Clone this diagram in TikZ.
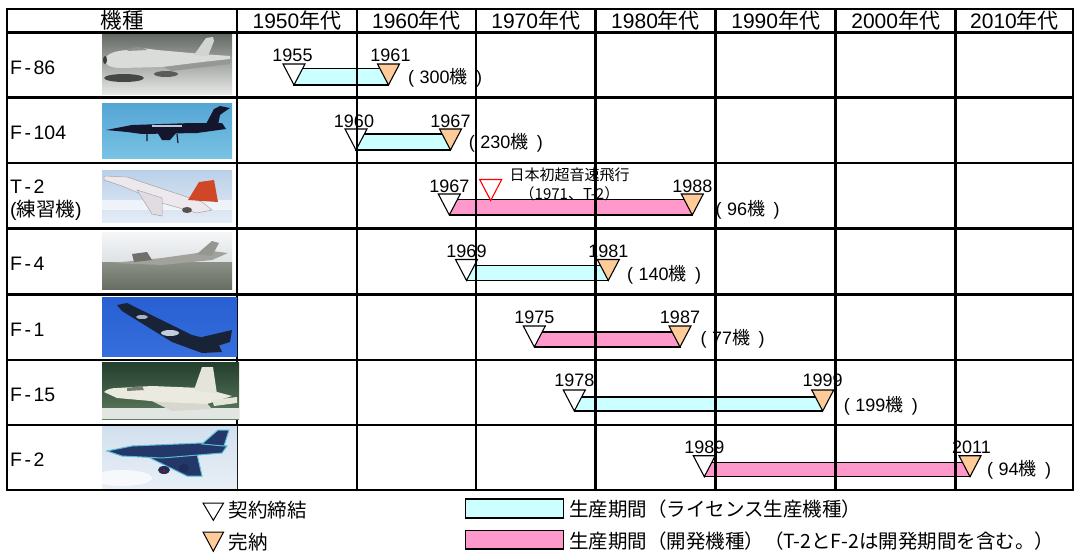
\documentclass[tikz,border=0pt]{standalone}
\usepackage{fontspec}
\setmainfont{Liberation Sans}
\newfontfamily\jp{Noto Sans CJK JP}
\definecolor{barcyan}{HTML}{CCFFFF}
\definecolor{barpink}{HTML}{FF99CC}
\definecolor{triorange}{HTML}{FFCC99}
\newcommand{\unitcnt}[1]{(\hspace{5.5pt}#1{\jp 機}\hspace{8.5pt})}
\begin{document}
\begin{tikzpicture}[x=1pt,y=-1pt,
  gridline/.style={line width=2.7pt, line cap=rect},
  barbox/.style={draw=black, line width=1.1pt},
  cbar/.style={barbox, fill=barcyan},
  pbar/.style={barbox, fill=barpink},
  tri/.style={draw=black, line width=1.1pt, line join=miter},
  wtri/.style={tri, fill=white},
  otri/.style={tri, fill=triorange},
  rtri/.style={draw=red, line width=1.1pt, line join=miter, fill=white},
  yr/.style={font=\fontsize{18}{18}\selectfont, inner sep=0pt, anchor=base},
  cnt/.style={font=\fontsize{18}{18}\selectfont, inner sep=0pt, anchor=west},
  hdr/.style={font=\fontsize{21}{21}\selectfont, inner sep=0pt},
  rowlab/.style={font=\fontsize{19.5}{19.5}\selectfont, inner sep=0pt, anchor=base west},
  leg/.style={font=\jp\fontsize{19.5}{19.5}\selectfont, inner sep=0pt, anchor=west},
  ann/.style={font=\jp\fontsize{15}{15}\selectfont, inner sep=0pt},
]
\useasboundingbox (0,0) rectangle (1077,554);
\fill[white] (0,0) rectangle (1077,554);

% ---------- apex coordinates ----------
\coordinate (s86) at (294,85);     \coordinate (e86) at (388.5,85);
\coordinate (s104) at (356,150);   \coordinate (e104) at (450.5,150);
\coordinate (st2) at (449.3,215);  \coordinate (et2) at (692.3,215);
\coordinate (sf4) at (466.5,280.5);\coordinate (ef4) at (608.3,280.5);
\coordinate (sf1) at (534.3,347);  \coordinate (ef1) at (680,347);
\coordinate (sf15) at (574.3,411); \coordinate (ef15) at (822.7,411);
\coordinate (sf2) at (704.3,476.7);\coordinate (ef2) at (970,476.7);
\coordinate (r71) at (490.7,200.5);

% ---------- bars ----------
\draw[cbar] ([yshift=16.5pt]s86) rectangle (e86);
\draw[cbar] ([yshift=16pt]s104) rectangle (e104);
\draw[pbar] ([yshift=15.5pt]st2) rectangle (et2);
\draw[cbar] ([yshift=15pt]sf4) rectangle (ef4);
\draw[pbar] ([yshift=15pt]sf1) rectangle (ef1);
\draw[cbar] ([yshift=14pt]sf15) rectangle (ef15);
\draw[pbar] ([yshift=14pt]sf2) rectangle (ef2);

% ---------- triangles ----------
\foreach \c in {s86,s104,st2,sf4,sf1,sf15,sf2}
  \draw[wtri] (\c) -- ++(-11,-21) -- ++(22,0) -- cycle;
\foreach \c in {e86,e104,et2,ef4,ef1,ef15,ef2}
  \draw[otri] (\c) -- ++(-11,-21) -- ++(22,0) -- cycle;
\draw[rtri] (r71) -- ++(-11,-21) -- ++(22,0) -- cycle;

% ---------- year labels ----------
\node[yr] (ys86) at ([yshift=24pt,xshift=-1.5pt]s86) {1955};
\node[yr] (ye86) at ([yshift=24pt,xshift=2pt]e86) {1961};
\node[yr] (ys104) at ([yshift=22.5pt,xshift=-2pt]s104) {1960};
\node[yr] (ye104) at ([yshift=22.5pt]e104) {1967};
\node[yr] (yst2) at ([yshift=23pt]st2) {1967};
\node[yr] (yet2) at ([yshift=23pt]et2) {1988};
\node[yr] (ysf4) at ([yshift=23.5pt]sf4) {1969};
\node[yr] (yef4) at ([yshift=23.5pt]ef4) {1981};
\node[yr] (ysf1) at ([yshift=23.5pt]sf1) {1975};
\node[yr] (yef1) at ([yshift=23.5pt]ef1) {1987};
\node[yr] (ysf15) at ([yshift=24.3pt]sf15) {1978};
\node[yr] (yef15) at ([yshift=24.3pt]ef15) {1999};
\node[yr] (ysf2) at ([yshift=23.4pt]sf2) {1989};
\node[yr] (yef2) at ([yshift=23.4pt,xshift=1.5pt]ef2) {2011};

% ---------- counts ----------
\node[cnt] (c86) at (408,77.7) {\unitcnt{300}};
\node[cnt] (c104) at (468.7,143.3) {\unitcnt{230}};
\node[cnt] (ct2) at (715.4,210) {\unitcnt{96}};
\node[cnt] (cf4) at (627,275) {\unitcnt{140}};
\node[cnt] (cf1) at (700.4,338.3) {\unitcnt{77}};
\node[cnt] (cf15) at (843.7,405.7) {\unitcnt{199}};
\node[cnt] (cf2) at (987,470) {\unitcnt{94}};

% ---------- annotation ----------
\node[ann] (ann1) at (569.5,175) {日本初超音速飛行};
\node[ann] (ann2) at (569.5,193.3) {（1971、T-2）};

% ---------- grid ----------
\draw[gridline] (7,9) rectangle (1073,490);
\foreach \yy in {32.5,97.5,163,228.5,294.5,360,425}
  \draw[gridline] (7,\yy) -- (1073,\yy);
\foreach \xx in {237,357,476,595.5,715.7,835.7,955.7}
  \draw[gridline] (\xx,9) -- (\xx,490);

% ---------- header ----------
\node[hdr,font=\jp\fontsize{21.5}{21.5}\selectfont] (h0) at (122,20.5) {機種};
\node[hdr] (h50) at (297,20.5) {1950{\jp 年代}};
\node[hdr] (h60) at (416.5,20.5) {1960{\jp 年代}};
\node[hdr] (h70) at (535.7,20.5) {1970{\jp 年代}};
\node[hdr] (h80) at (655.6,20.5) {1980{\jp 年代}};
\node[hdr] (h90) at (775.7,20.5) {1990{\jp 年代}};
\node[hdr] (h00) at (895.7,20.5) {2000{\jp 年代}};
\node[hdr] (h10) at (1014.5,20.5) {2010{\jp 年代}};

% ---------- row labels ----------
\node[rowlab] (l86) at (10,74) {F\kern2.5pt-\kern2.5pt86};
\node[rowlab] (l104) at (10,139) {F\kern2.5pt-\kern2.5pt104};
\node[rowlab] (lt2) at (10,193) {T\kern2.5pt-\kern2.5pt2};
\node[rowlab] (lt2b) at (10,216.5) {({\jp 練習機})};
\node[rowlab] (lf4) at (10,270.5) {F\kern2.5pt-\kern2.5pt4};
\node[rowlab] (lf1) at (10,336) {F\kern2.5pt-\kern2.5pt1};
\node[rowlab] (lf15) at (10,401.5) {F\kern2.5pt-\kern2.5pt15};
\node[rowlab] (lf2) at (10,466.7) {F\kern2.5pt-\kern2.5pt2};

% ---------- photos (approximated) ----------
% F-86
\begin{scope}[shift={(102,34)}]
  \clip (0,0) rectangle (130,60);
  \fill[top color={rgb,255:red,100;green,105;blue,100}, bottom color={rgb,255:red,230;green,232;blue,230}] (0,0) rectangle (130,60);
  \fill[fill={rgb,255:red,70;green,72;blue,70}] (22,44) ellipse [x radius=20, y radius=4];
  \fill[fill={rgb,255:red,90;green,92;blue,90}] (64,40) ellipse [x radius=12, y radius=3];
  \fill[fill={rgb,255:red,150;green,152;blue,150}] (55,30) -- (128,25) -- (128,30) -- (70,37) -- cycle;
  \fill[fill={rgb,255:red,218;green,220;blue,218}] (3,26) .. controls (4,20) and (12,17) .. (25,16) -- (40,14) -- (55,16) -- (100,20) -- (128,22) -- (128,25) -- (100,28) -- (60,33) -- (20,34) .. controls (8,34) and (3,31) .. (3,26) -- cycle;
  \fill[fill={rgb,255:red,210;green,212;blue,210}] (92,21) -- (104,4) -- (111,3) -- (112,7) -- (106,22) -- cycle;
  \fill[fill={rgb,255:red,140;green,145;blue,140}] (25,17) .. controls (30,12) and (40,12) .. (45,16) -- cycle;
  \fill[fill={rgb,255:red,60;green,60;blue,60}] (3,26) ellipse [x radius=2, y radius=4];
\end{scope}
% F-104
\begin{scope}[shift={(102,103)}]
  \clip (0,0) rectangle (130,55);
  \fill[top color={rgb,255:red,85;green,165;blue,212}, bottom color={rgb,255:red,120;green,195;blue,228}] (0,0) rectangle (130,55);
  \fill[fill={rgb,255:red,20;green,22;blue,45}] (4,27) -- (30,22) -- (90,20) -- (120,20) -- (124,26) -- (95,30) -- (40,31) -- (25,29) -- cycle;
  \fill[fill={rgb,255:red,20;green,22;blue,45}] (104,21) -- (112,6) -- (118,3) -- (128,5) -- (122,9) -- (118,12) -- (116,22) -- cycle;
  \fill[fill={rgb,255:red,20;green,22;blue,45}] (55,29) -- (75,29) -- (68,37) -- (60,37) -- cycle;
  \draw[draw={rgb,255:red,20;green,22;blue,45}, line width=1.2pt] (45,31) -- (45,38) (75,31) -- (76,40);
  \fill[fill={rgb,255:red,190;green,200;blue,220}] (50,22) rectangle (80,24);
\end{scope}
% T-2
\begin{scope}[shift={(102,170)}]
  \clip (0,0) rectangle (130,52);
  \fill[top color={rgb,255:red,185;green,208;blue,232}, bottom color={rgb,255:red,228;green,236;blue,246}] (0,0) rectangle (130,52);
  \fill[white, opacity=0.6] (0,30) rectangle (130,40);
  \fill[fill={rgb,255:red,236;green,232;blue,236}, draw={rgb,255:red,170;green,165;blue,175}, line width=0.5pt] (2,6) -- (25,7) -- (70,22) -- (100,32) -- (110,40) -- (95,43) -- (60,33) -- (20,16) -- (2,10) -- cycle;
  \fill[fill={rgb,255:red,225;green,220;blue,225}, draw={rgb,255:red,170;green,165;blue,175}, line width=0.5pt] (35,20) -- (50,44) -- (60,46) -- (60,28) -- cycle;
  \fill[fill={rgb,255:red,210;green,70;blue,40}] (86,30) -- (97,12) -- (112,10) -- (116,32) -- cycle;
  \fill[fill={rgb,255:red,90;green,80;blue,80}] (85,40) ellipse [x radius=5, y radius=3];
\end{scope}
% F-4
\begin{scope}[shift={(102,232)}]
  \clip (0,0) rectangle (130,57);
  \fill[top color={rgb,255:red,245;green,246;blue,248}, bottom color={rgb,255:red,222;green,226;blue,228}] (0,0) rectangle (130,30);
  \fill[top color={rgb,255:red,140;green,145;blue,135}, bottom color={rgb,255:red,105;green,110;blue,100}] (0,30) rectangle (130,57);
  \fill[fill={rgb,255:red,160;green,162;blue,155}] (10,31) -- (60,26) -- (110,19) -- (126,21) -- (110,28) -- (60,33) -- cycle;
  \fill[fill={rgb,255:red,150;green,150;blue,145}] (95,22) -- (110,9) -- (117,11) -- (110,24) -- cycle;
  \fill[fill={rgb,255:red,110;green,112;blue,105}] (30,22) -- (45,20) -- (50,28) -- (32,30) -- cycle;
\end{scope}
% F-1
\begin{scope}[shift={(102,297)}]
  \clip (0,0) rectangle (135,59);
  \fill[top color={rgb,255:red,40;green,95;blue,210}, bottom color={rgb,255:red,55;green,110;blue,220}] (0,0) rectangle (135,59);
  \fill[fill={rgb,255:red,25;green,35;blue,55}] (15,8) -- (25,6) -- (90,38) -- (115,44) -- (120,55) -- (100,56) -- (70,45) -- (20,14) -- cycle;
  \fill[fill={rgb,255:red,25;green,35;blue,55}] (100,40) -- (130,33) -- (128,45) -- (112,50) -- cycle;
  \fill[fill={rgb,255:red,195;green,205;blue,220}] (68,36) ellipse [x radius=9, y radius=3];
  \fill[fill={rgb,255:red,170;green,180;blue,200}] (40,20) ellipse [x radius=6, y radius=2];
\end{scope}
% F-15
\begin{scope}[shift={(102,362)}]
  \clip (0,0) rectangle (137,57);
  \fill[top color={rgb,255:red,35;green,62;blue,45}, bottom color={rgb,255:red,95;green,125;blue,95}] (0,0) rectangle (137,57);
  \fill[fill={rgb,255:red,226;green,230;blue,226}] (0,46) rectangle (137,57);
  \fill[fill={rgb,255:red,215;green,215;blue,205}] (40,34) -- (95,30) -- (110,47) -- (70,49) -- cycle;
  \fill[fill={rgb,255:red,234;green,234;blue,224}] (2,30) .. controls (5,27) and (10,26) .. (15,26) -- (50,24) -- (100,26) -- (130,34) -- (105,42) -- (60,40) -- (15,36) -- cycle;
  \fill[fill={rgb,255:red,228;green,228;blue,218}] (92,28) -- (100,5) -- (111,5) -- (115,32) -- cycle;
  \fill[fill={rgb,255:red,228;green,228;blue,218}] (110,38) -- (135,35) -- (135,41) -- (112,44) -- cycle;
  \fill[fill={rgb,255:red,120;green,125;blue,115}] (25,26) -- (40,24) -- (42,28) -- (25,29) -- cycle;
\end{scope}
% F-2
\begin{scope}[shift={(102,426)}]
  \clip (0,0) rectangle (135,62);
  \fill[top color={rgb,255:red,210;green,224;blue,238}, bottom color={rgb,255:red,232;green,238;blue,246}] (0,0) rectangle (135,62);
  \fill[white, opacity=0.7] (20,52) ellipse [x radius=30, y radius=8];
  \fill[fill={rgb,255:red,35;green,55;blue,105}, draw={rgb,255:red,90;green,190;blue,215}, line width=1pt] (40,28) -- (95,28) -- (100,50) -- (85,50) -- cycle;
  \fill[fill={rgb,255:red,35;green,55;blue,105}, draw={rgb,255:red,90;green,190;blue,215}, line width=1pt] (5,25) -- (30,20) -- (100,17) -- (125,20) -- (120,27) -- (60,32) -- (20,30) -- cycle;
  \fill[fill={rgb,255:red,35;green,55;blue,105}, draw={rgb,255:red,90;green,190;blue,215}, line width=1pt] (100,18) -- (116,4) -- (127,4) -- (122,20) -- cycle;
  \fill[fill={rgb,255:red,30;green,45;blue,90}] (62,44) ellipse [x radius=6, y radius=4];
  \fill[fill={rgb,255:red,30;green,45;blue,90}] (82,42) ellipse [x radius=5, y radius=4];
  \fill[red!80!black] (62,45) circle (1.6);
\end{scope}

% ---------- legend ----------
\coordinate (lw) at (213.3,520.3);
\coordinate (lo) at (213.3,551.3);
\draw[tri, fill=white, line width=1pt] (lw) -- ++(-10.3,-17.3) -- ++(20.6,0) -- cycle;
\draw[tri, fill=triorange, line width=1pt] (lo) -- ++(-10.3,-19.3) -- ++(20.6,0) -- cycle;
\node[leg] (legw) at (228.5,509.7) {契約締結};
\node[leg] (lego) at (228.5,542.3) {完納};
\node[barbox, fill=barcyan, minimum width=97.6pt, minimum height=19pt, inner sep=0pt] (legc) at (514.5,508.5) {};
\node[barbox, fill=barpink, minimum width=97.6pt, minimum height=18.3pt, inner sep=0pt] (legp) at (514.5,539.8) {};
\node[leg] (legct) at (569,509) {生産期間（ライセンス生産機種）};
\node[leg] (legpt) at (569,541) {生産期間（開発機種）（T-2とF-2は開発期間を含む。）};
\end{tikzpicture}
\end{document}
